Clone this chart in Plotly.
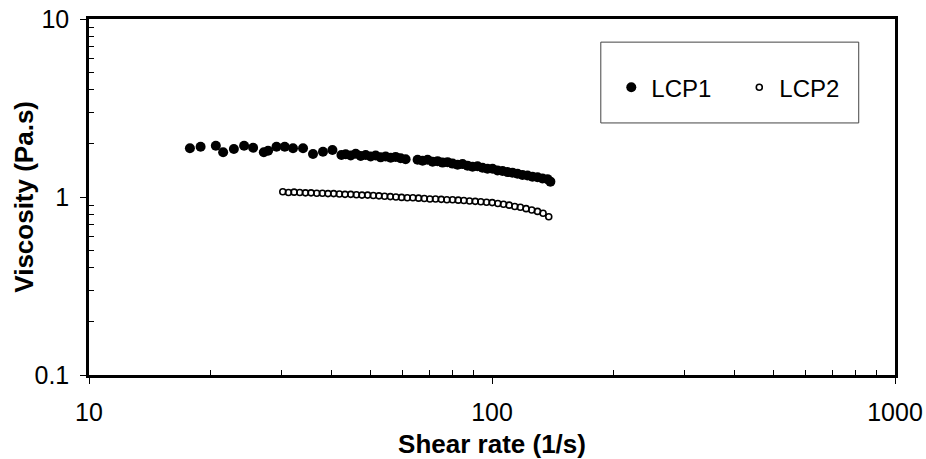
import plotly.graph_objects as go

# ---- data ----
lcp1_shear = [17.80, 18.92, 20.64, 21.52, 22.88, 24.26, 25.54, 27.15, 27.82, 29.19,
              30.60, 32.08, 33.97, 35.96, 38.07, 40.18, 42.30,
              43.35, 44.61, 45.90, 47.23, 48.60, 50.00, 51.45, 52.94, 54.47, 56.05,
              57.66, 59.33, 61.05, 65.37, 67.26, 69.21, 71.22, 73.28, 75.40, 77.58,
              79.83, 82.14, 84.52, 86.97, 89.48, 92.07, 94.74, 97.45, 100.3, 103.2,
              106.2, 109.3, 112.4, 115.7, 119.0, 122.5, 126.0, 129.7, 133.4, 137.3, 139.6]
lcp1_visc = [1.877, 1.917, 1.942, 1.783, 1.860, 1.942, 1.892, 1.783, 1.820, 1.917,
             1.917, 1.877, 1.877, 1.744, 1.797, 1.837, 1.722,
             1.74, 1.71, 1.75, 1.70, 1.72, 1.69, 1.71, 1.67, 1.69, 1.66,
             1.68, 1.65, 1.63, 1.62, 1.60, 1.62, 1.58, 1.59, 1.56, 1.57,
             1.54, 1.52, 1.53, 1.50, 1.48, 1.49, 1.46, 1.44, 1.44, 1.41,
             1.40, 1.38, 1.37, 1.35, 1.33, 1.32, 1.30, 1.29, 1.27, 1.26, 1.22]

lcp2_shear = [30.26, 31.26, 32.28, 33.34, 34.44, 35.56, 36.74, 37.95, 39.18, 40.47,
              41.81, 43.18, 44.61, 46.08, 47.57, 49.14, 50.76, 52.42, 54.14, 55.94,
              57.75, 59.66, 61.63, 63.64, 65.73, 67.92, 70.13, 72.44, 74.83, 77.27,
              79.83, 82.46, 85.14, 87.95, 90.87, 93.81, 96.92, 100.1, 103.4, 106.8,
              110.3, 113.9, 117.6, 121.5, 125.5, 129.7, 133.9, 138.3]
lcp2_visc = [1.07, 1.06, 1.065, 1.06, 1.055, 1.055, 1.05, 1.05, 1.045, 1.045,
             1.04, 1.035, 1.035, 1.03, 1.025, 1.025, 1.02, 1.015, 1.01, 1.005,
             1.0, 0.995, 0.99, 0.99, 0.985, 0.98, 0.975, 0.975, 0.97, 0.965,
             0.965, 0.96, 0.955, 0.95, 0.945, 0.94, 0.935, 0.93, 0.92, 0.91,
             0.90, 0.885, 0.875, 0.86, 0.845, 0.83, 0.81, 0.775]

x_ticks = [10, 100, 1000]
x_tick_labels = ["10", "100", "1000"]
y_ticks = [0.1, 1, 10]
y_tick_labels = ["0.1", "1", "10"]

x_minor = [m * d for d in (10, 100) for m in range(2, 10)]
y_minor = [m * d for d in (0.1, 1) for m in range(2, 10)]

FONT = "Liberation Sans, Arial, sans-serif"

fig = go.Figure()
fig.add_trace(go.Scatter(
    x=lcp1_shear, y=lcp1_visc, mode="markers", name="LCP1",
    marker=dict(symbol="circle", size=10, color="black", line=dict(width=0)),
))
fig.add_trace(go.Scatter(
    x=lcp2_shear, y=lcp2_visc, mode="markers", name="LCP2",
    marker=dict(symbol="circle-open", size=6, color="black", line=dict(width=1.6, color="black")),
))

# legend frame
fig.add_shape(type="rect", xref="paper", yref="paper",
              x0=0.635, x1=0.955, y0=0.708, y1=0.935,
              line=dict(color="#444", width=1), fillcolor="rgba(0,0,0,0)")

# y-axis title as annotation for exact placement
fig.add_annotation(text="<b>Viscosity (Pa.s)</b>", xref="paper", yref="paper",
                   x=-0.081, y=0.5, xanchor="center", yanchor="middle",
                   textangle=-90, showarrow=False,
                   font=dict(family=FONT, size=26, color="black"))

fig.update_layout(
    width=926, height=459,
    margin=dict(l=89, r=31, t=19, b=84),
    paper_bgcolor="white", plot_bgcolor="white",
    font=dict(family=FONT, size=25, color="black"),
    showlegend=True,
    legend=dict(orientation="h", x=0.648, y=0.807, xanchor="left", yanchor="middle",
                bgcolor="rgba(0,0,0,0)", borderwidth=0,
                font=dict(family=FONT, size=24, color="black"),
                entrywidth=83, entrywidthmode="pixels"),
    xaxis=dict(
        type="log", range=[1, 3], automargin=False,
        tickvals=x_ticks, ticktext=x_tick_labels,
        ticks="outside", ticklen=6, tickwidth=1, tickcolor="black",
        showline=True, linewidth=2.5, linecolor="black", mirror=True,
        showgrid=False, zeroline=False,
        ticklabelstandoff=7,
        minor=dict(tickvals=x_minor, ticks="inside", ticklen=5, tickwidth=1,
                   tickcolor="black", showgrid=False),
        title=dict(text="<b>Shear rate (1/s)</b>", font=dict(family=FONT, size=26), standoff=12),
    ),
    yaxis=dict(
        type="log", range=[-1, 1], automargin=False,
        tickvals=y_ticks, ticktext=y_tick_labels,
        ticks="outside", ticklen=6, tickwidth=1, tickcolor="black",
        showline=True, linewidth=2.5, linecolor="black", mirror=True,
        showgrid=False, zeroline=False,
        ticklabelstandoff=6,
        minor=dict(tickvals=y_minor, ticks="inside", ticklen=5, tickwidth=1,
                   tickcolor="black", showgrid=False),
    ),
)

fig.write_html("out.html", config={"displayModeBar": False},
               post_script="document.body.style.margin='0px';document.body.style.overflow='hidden';")
